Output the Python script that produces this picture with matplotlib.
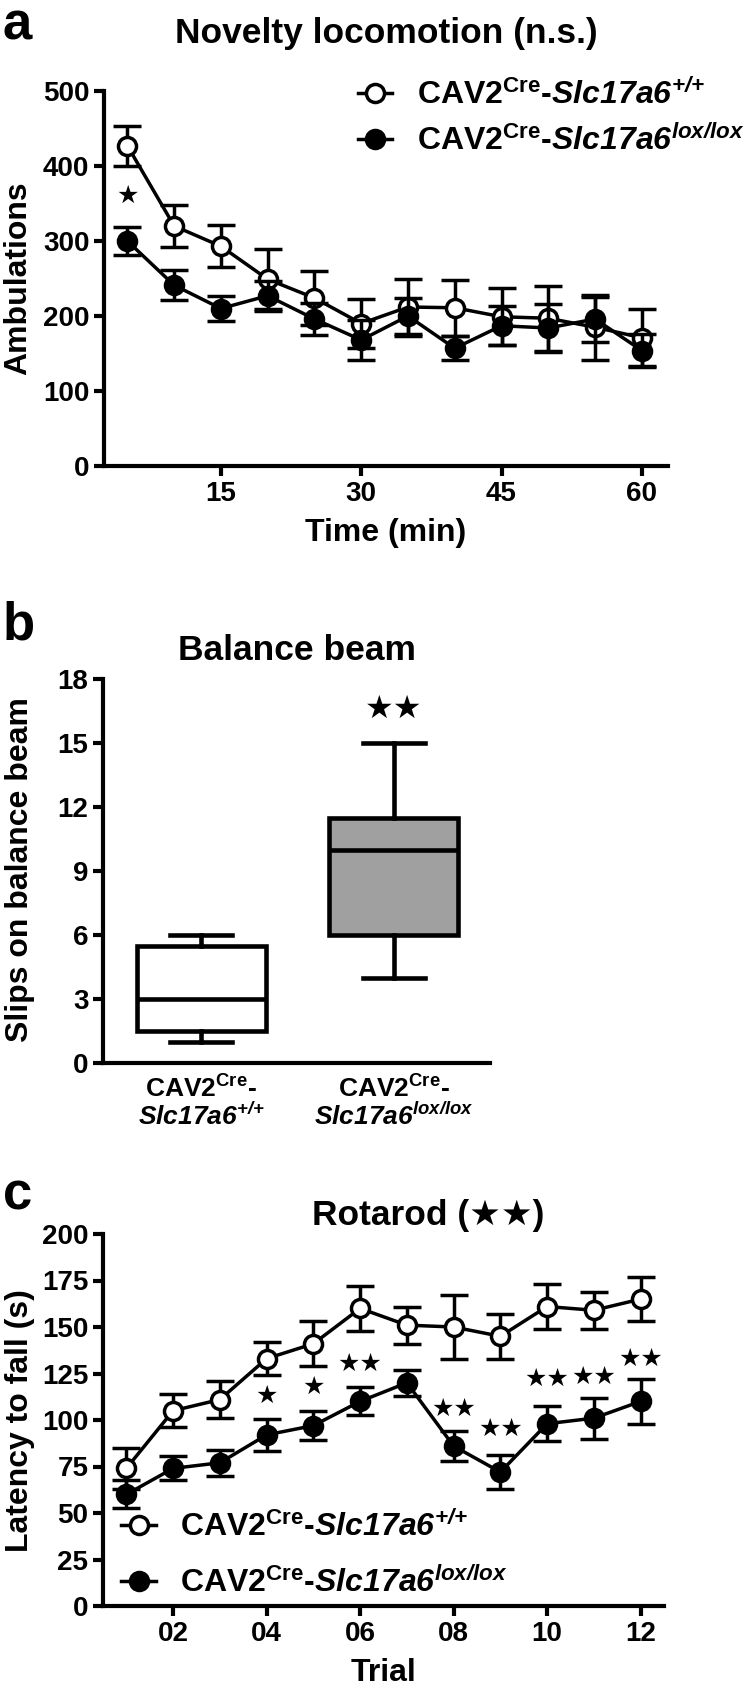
import matplotlib
matplotlib.use('Agg')
import matplotlib.pyplot as plt
from matplotlib.lines import Line2D

plt.rcParams['font.family'] = ['Liberation Sans', 'DejaVu Sans']
plt.rcParams['font.weight'] = 'bold'
plt.rcParams['mathtext.fontset'] = 'custom'
plt.rcParams['mathtext.rm'] = 'Liberation Sans:bold'
plt.rcParams['mathtext.it'] = 'Liberation Sans:bold:italic'
# \mathbf is used for bold-italic gene names (digits and '/' stay italic this way)
plt.rcParams['mathtext.bf'] = 'Liberation Sans:bold:italic'

# ---------------- data ----------------
label_wt = r'CAV2$^{\mathrm{Cre}}$-$\mathbf{Slc17a6}^{\mathbf{{+}/{+}}}$'
label_ko = r'CAV2$^{\mathrm{Cre}}$-$\mathbf{Slc17a6}^{\mathbf{lox/lox}}$'

# Panel a: novelty locomotion
time_min = [5, 10, 15, 20, 25, 30, 35, 40, 45, 50, 55, 60]
amb_wt = [427, 320, 293, 249, 224, 190, 212, 211, 199, 197, 185, 171]
amb_wt_sem = [27, 28, 28, 40, 36, 33, 38, 37, 38, 43, 43, 38]
amb_ko = [300, 241, 210, 227, 196, 168, 200, 157, 187, 184, 196, 154]
amb_ko_sem = [19, 20, 17, 20, 21, 27, 24, 16, 26, 32, 30, 22]
a_xticks = [15, 30, 45, 60]
a_star_x = [5]
a_star_y = [360]

# Panel b: balance beam (box plot)
b_groups = ['CAV2$^{\\mathrm{Cre}}$-\n$\\mathbf{Slc17a6}^{\\mathbf{{+}/{+}}}$',
            'CAV2$^{\\mathrm{Cre}}$-\n$\\mathbf{Slc17a6}^{\\mathbf{lox/lox}}$']
b_whislo = [1, 4]
b_q1 = [1.5, 6]
b_med = [3, 10]
b_q3 = [5.5, 11.5]
b_whishi = [6, 15]
b_colors = ['white', '#a0a0a0']
b_star_text = ['', '★★']
b_star_y = [16.6]

# Panel c: rotarod
trial = [1, 2, 3, 4, 5, 6, 7, 8, 9, 10, 11, 12]
rot_wt = [74, 105, 111, 133, 141, 160, 151, 150, 145, 161, 159, 165]
rot_wt_sem = [11, 9, 10, 9, 12, 12, 10, 17, 12, 12, 10, 12]
rot_ko = [60, 74, 77, 92, 97, 110, 120, 86, 72, 98, 101, 110]
rot_ko_sem = [7.5, 6.5, 7, 8.5, 8, 7.5, 7, 8, 9, 9.5, 11, 12]
c_xticks = [2, 4, 6, 8, 10, 12]
c_xticklabels = ['02', '04', '06', '08', '10', '12']
c_star_x = [4, 5, 6, 8, 9, 10, 11, 12]
c_star_y = [113, 118, 130, 106, 95, 122, 123, 133]
c_star_text = ['★', '★', '★★', '★★', '★★', '★★', '★★', '★★']

# ---------------- figure ----------------
W, H = 750, 1695
fig = plt.figure(figsize=(W / 100, H / 100), dpi=100)

TICK_FS = 20
LAB_FS = 23
TITLE_FS = 25.5
LEG_FS = 23
LETTER_FS = 38


def ax_px(left, top, right, bottom):
    return fig.add_axes([left / W, 1 - bottom / H, (right - left) / W, (bottom - top) / H])


def style(ax):
    for s in ['top', 'right']:
        ax.spines[s].set_visible(False)
    for s in ['left', 'bottom']:
        ax.spines[s].set_linewidth(3)
    ax.tick_params(direction='out', length=7.5, width=3, labelsize=TICK_FS, pad=3)
    for lab in ax.get_xticklabels() + ax.get_yticklabels():
        lab.set_fontweight('bold')


LW = 2.5
MS = 13
err_kw = dict(color='black', lw=LW, elinewidth=LW, capsize=10, capthick=LW, mew=LW, ms=MS, clip_on=False)
h_wt = Line2D([], [], color='black', lw=LW, marker='o', ms=MS, mfc='white', mec='black', mew=LW)
h_ko = Line2D([], [], color='black', lw=LW, marker='o', ms=MS, mfc='black', mec='black', mew=LW)

# ---- Panel a ----
axa = ax_px(104, 91, 668, 466)
axa.errorbar(time_min, amb_wt, yerr=amb_wt_sem, fmt='-o', mfc='white', mec='black', zorder=3, **err_kw)
axa.errorbar(time_min, amb_ko, yerr=amb_ko_sem, fmt='-o', mfc='black', mec='black', zorder=4, **err_kw)
axa.set_xlim(2.5, 62.8)
axa.set_ylim(0, 500)
axa.set_xticks(a_xticks)
axa.set_yticks([0, 100, 200, 300, 400, 500])
style(axa)
for x, y in zip(a_star_x, a_star_y):
    axa.text(x, y, '★', ha='center', va='center', fontsize=18, family='DejaVu Sans')
axa.legend([h_wt, h_ko], [label_wt, label_ko], loc='upper left', bbox_to_anchor=(358 / W, 1 - 79 / H),
           bbox_transform=fig.transFigure, frameon=False, fontsize=LEG_FS, handlelength=1.05,
           handletextpad=0.8, labelspacing=0.45, borderpad=0, borderaxespad=0)
axa.set_xlabel('Time (min)', fontsize=LAB_FS, fontweight='bold', labelpad=8)
fig.text(18 / W, 1 - 278 / H, 'Ambulations', rotation=90, ha='center', va='center', fontsize=LAB_FS, fontweight='bold')
fig.text(386 / W, 1 - 34 / H, 'Novelty locomotion (n.s.)', ha='center', va='center', fontsize=TITLE_FS, fontweight='bold')
fig.text(3 / W, 1 - 25 / H, 'a', ha='left', va='center', fontsize=LETTER_FS, fontweight='bold')

# ---- Panel b ----
axb = ax_px(103, 679, 490, 1063)
stats = []
for i in range(2):
    stats.append(dict(whislo=b_whislo[i], q1=b_q1[i], med=b_med[i], q3=b_q3[i], whishi=b_whishi[i], fliers=[]))
bp = axb.bxp(stats, positions=[1, 2], widths=0.67, showfliers=False, patch_artist=True,
             boxprops=dict(linewidth=3.3, edgecolor='black'),
             medianprops=dict(color='black', linewidth=3.3),
             whiskerprops=dict(color='black', linewidth=3.3),
             capprops=dict(color='black', linewidth=3.3), capwidths=0.32)
for patch, c in zip(bp['boxes'], b_colors):
    patch.set_facecolor(c)
axb.set_xlim(0.49, 2.5)
axb.set_ylim(0, 18)
axb.set_yticks([0, 3, 6, 9, 12, 15, 18])
axb.set_xticks([1, 2])
axb.set_xticklabels(b_groups, fontsize=19, linespacing=1.0)
style(axb)
axb.tick_params(axis='x', length=0, labelsize=19, pad=9)
axb.text(2, b_star_y[0], b_star_text[1], ha='center', va='center', fontsize=23, family='DejaVu Sans')
fig.text(20 / W, 1 - 870 / H, 'Slips on balance beam', rotation=90, ha='center', va='center', fontsize=LAB_FS, fontweight='bold')
fig.text(297 / W, 1 - 650 / H, 'Balance beam', ha='center', va='center', fontsize=TITLE_FS, fontweight='bold')
fig.text(3 / W, 1 - 625 / H, 'b', ha='left', va='center', fontsize=LETTER_FS, fontweight='bold')

# ---- Panel c ----
axc = ax_px(103, 1234, 664, 1606)
axc.errorbar(trial, rot_wt, yerr=rot_wt_sem, fmt='-o', mfc='white', mec='black', zorder=3, **err_kw)
axc.errorbar(trial, rot_ko, yerr=rot_ko_sem, fmt='-o', mfc='black', mec='black', zorder=4, **err_kw)
axc.set_xlim(0.5, 12.5)
axc.set_ylim(0, 200)
axc.set_xticks(c_xticks)
axc.set_xticklabels(c_xticklabels)
axc.set_yticks(range(0, 201, 25))
style(axc)
for x, y, t in zip(c_star_x, c_star_y, c_star_text):
    axc.text(x, y, t, ha='center', va='center', fontsize=18, family='DejaVu Sans')
axc.legend([h_wt, h_ko], [label_wt, label_ko], loc='upper left', bbox_to_anchor=(121 / W, 1 - 1511 / H),
           bbox_transform=fig.transFigure, frameon=False, fontsize=LEG_FS, handlelength=1.1,
           handletextpad=0.75, labelspacing=0.75, borderpad=0, borderaxespad=0)
axc.set_xlabel('Trial', fontsize=LAB_FS, fontweight='bold', labelpad=8)
fig.text(20 / W, 1 - 1421 / H, 'Latency to fall (s)', rotation=90, ha='center', va='center', fontsize=LAB_FS, fontweight='bold')
fig.text(428 / W, 1 - 1215 / H, 'Rotarod (★★)', ha='center', va='center', fontsize=TITLE_FS, fontweight='bold')
fig.text(3 / W, 1 - 1195 / H, 'c', ha='left', va='center', fontsize=LETTER_FS, fontweight='bold')

fig.savefig('out.png', dpi=100, facecolor='white')
